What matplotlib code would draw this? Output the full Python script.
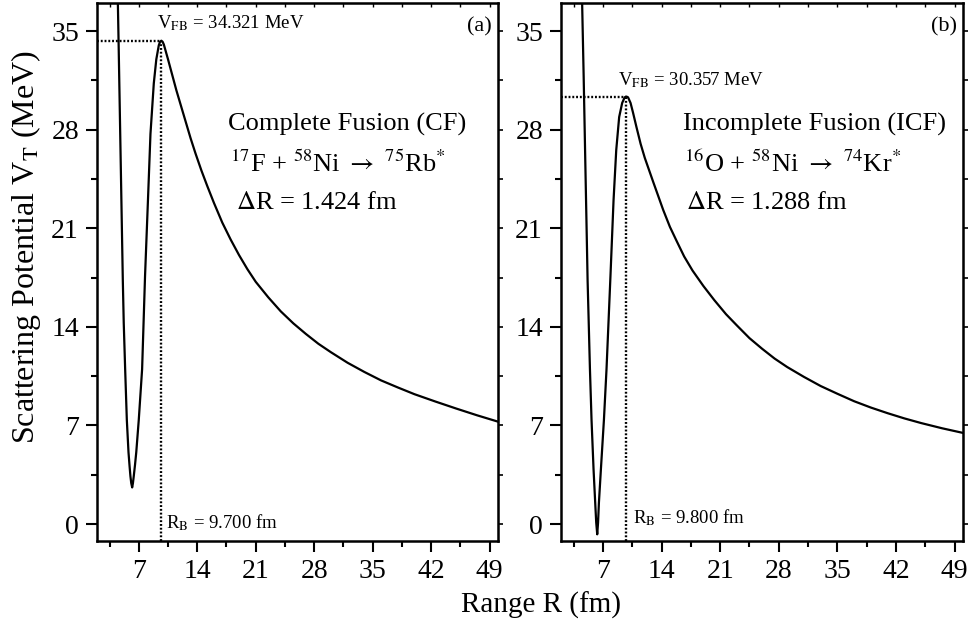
import matplotlib
matplotlib.use("Agg")
import matplotlib.pyplot as plt
from matplotlib.ticker import MultipleLocator

plt.rcParams['font.family'] = ['Liberation Serif', 'DejaVu Serif']
plt.rcParams['mathtext.fontset'] = 'stix'

# (a) complete fusion 17F + 58Ni
r_cf = [4.45, 4.6, 4.8, 5.0, 5.09, 5.2, 5.37, 5.57, 5.77, 5.9, 6.0, 6.1, 6.21,
        6.3, 6.4, 6.55, 6.7, 7.0, 7.4, 7.75, 8.1, 8.4, 8.8, 9.1, 9.4, 9.55,
        9.7, 9.85, 10.0, 10.5, 11.0, 11.5, 12.0, 12.6, 13.2, 13.8, 14.5, 15.2,
        16.0, 17.0, 18.0, 19.0, 20.0, 21.0, 22.5, 24.0, 25.5, 27.0, 28.5, 30.0,
        32.0, 34.0, 36.0, 38.0, 40.0, 42.5, 45.0, 47.5, 50.0]
v_cf = [38.5, 33.7, 27.0, 20.3, 17.3, 14.3, 11.0, 7.4, 5.1, 4.1, 3.4, 2.9, 2.6,
        2.9, 3.4, 4.2, 5.1, 7.4, 11.0, 17.6, 23.0, 27.7, 31.3, 33.0, 34.0, 34.25,
        34.32, 34.25, 34.05, 33.0, 31.9, 30.8, 29.8, 28.6, 27.4, 26.3, 25.1, 24.0,
        22.8, 21.4, 20.2, 19.1, 18.1, 17.2, 16.1, 15.1, 14.25, 13.5, 12.8, 12.2,
        11.45, 10.8, 10.2, 9.7, 9.22, 8.7, 8.2, 7.72, 7.27]

# (b) incomplete fusion 16O + 58Ni
r_icf = [4.5, 4.7, 4.9, 5.1, 5.17, 5.3, 5.45, 5.64, 5.88, 6.08, 6.2, 6.32,
         6.42, 6.52, 6.76, 7.12, 7.43, 7.9, 8.27, 8.59, 8.94, 9.3, 9.6, 9.8,
         10.0, 10.3, 10.6, 11.0, 11.5, 12.0, 12.5, 13.0, 13.6, 14.2, 15.0, 15.8,
         16.7, 17.7, 19.0, 20.3, 21.7, 23.0, 24.5, 26.0, 27.5, 29.0, 31.0, 33.0,
         35.0, 37.0, 39.0, 41.0, 43.0, 45.0, 47.5, 50.0]
v_icf = [37.5, 31.8, 25.6, 19.5, 17.3, 14.4, 11.0, 7.4, 3.9, 1.5, 0.1, -0.73,
         0.1, 1.5, 3.9, 7.4, 11.0, 17.6, 23.0, 26.55, 28.9, 29.9, 30.3, 30.357,
         30.3, 29.9, 29.2, 28.2, 27.0, 26.0, 25.15, 24.3, 23.3, 22.3, 21.1, 20.1,
         19.0, 18.0, 16.9, 15.9, 14.9, 14.1, 13.2, 12.45, 11.75, 11.15, 10.45,
         9.8, 9.25, 8.72, 8.27, 7.87, 7.5, 7.17, 6.8, 6.47]

rb = [9.700, 9.800]
vfb = [34.321, 30.357]
panel_tags = ['(a)', '(b)']
titles = ['Complete Fusion (CF)', 'Incomplete Fusion (ICF)']
reactions = [r'$^{17}$F + $^{58}$Ni $\rightarrow$ $^{75}$Rb$^{*}$',
             r'$^{16}$O + $^{58}$Ni $\rightarrow$ $^{74}$Kr$^{*}$']
delta_r = [r'$\Delta$R = 1.424 fm', r'$\Delta$R = 1.288 fm']

XMIN, XMAX = 2, 50
YMIN, YMAX = -1.2, 37

fig = plt.figure(figsize=(9.7, 6.29), dpi=100)
ax_a = fig.add_axes([0.100, 0.140, 0.4134, 0.8553])
ax_b = fig.add_axes([0.5784, 0.140, 0.4144, 0.8553])

curves = [(r_cf, v_cf), (r_icf, v_icf)]
vfb_pos = [(9.23, 35.6), (8.86, 31.5)]
rb_pos = [(10.2, 0.1), (10.58, 0.45)]
text_x = [(17.7, 17.9, 18.6), (16.6, 16.7, 16.9)]

for k, ax in enumerate([ax_a, ax_b]):
    r, v = curves[k]
    ax.plot(r, v, color='black', lw=1.6)
    ax.plot([XMIN, rb[k]], [vfb[k], vfb[k]], color='black', lw=1.7,
            linestyle=(0, (0.8, 0.8)))
    ax.plot([rb[k], rb[k]], [YMIN, vfb[k]], color='black', lw=1.7,
            linestyle=(0, (0.8, 0.8)))

    ax.set_xlim(XMIN, XMAX)
    ax.set_ylim(YMIN, YMAX)
    ax.xaxis.set_major_locator(MultipleLocator(7))
    ax.xaxis.set_minor_locator(MultipleLocator(3.5))
    ax.yaxis.set_major_locator(MultipleLocator(7))
    ax.yaxis.set_minor_locator(MultipleLocator(3.5))
    ax.tick_params(which='major', direction='out', length=8, width=1.5,
                   labelsize=20, pad=5)
    ax.tick_params(which='minor', direction='out', length=4.5, width=1.5)
    for s in ax.spines.values():
        s.set_linewidth(1.8)

    # short ticks on the right (outward) and top (inward)
    sy = ax.secondary_yaxis('right')
    sy.yaxis.set_major_locator(MultipleLocator(7))
    sy.yaxis.set_minor_locator(MultipleLocator(3.5))
    sy.tick_params(which='both', direction='out', length=3.5, width=1.2,
                   labelright=False)
    sx = ax.secondary_xaxis('top')
    sx.xaxis.set_major_locator(MultipleLocator(7))
    sx.xaxis.set_minor_locator(MultipleLocator(3.5))
    sx.tick_params(which='both', direction='in', length=3, width=1.0,
                   labeltop=False)

    ax.text(vfb_pos[k][0], vfb_pos[k][1],
            r'V$_{\rm FB}$ = %.3f MeV' % vfb[k],
            fontsize=13.5, ha='left', va='center')
    ax.text(rb_pos[k][0], rb_pos[k][1],
            r'R$_{\rm B}$ = %.3f fm' % rb[k],
            fontsize=13.5, ha='left', va='center')
    ax.text(0.985, 0.955, panel_tags[k], transform=ax.transAxes,
            fontsize=16, ha='right', va='center')
    ax.text(text_x[k][0], 28.4, titles[k], fontsize=19, ha='left', va='center')
    ax.text(text_x[k][1], 25.6, reactions[k], fontsize=19, ha='left',
            va='center')
    ax.text(text_x[k][2], 22.8, delta_r[k], fontsize=19, ha='left',
            va='center')

fig.text(0.027, 0.607, r'Scattering Potential V$_{\rm T}$ (MeV)',
         rotation=90, fontsize=23, ha='center', va='center')
fig.text(0.558, 0.038, 'Range R (fm)', fontsize=21, ha='center',
         va='center')

fig.savefig("out.png", dpi=100)
